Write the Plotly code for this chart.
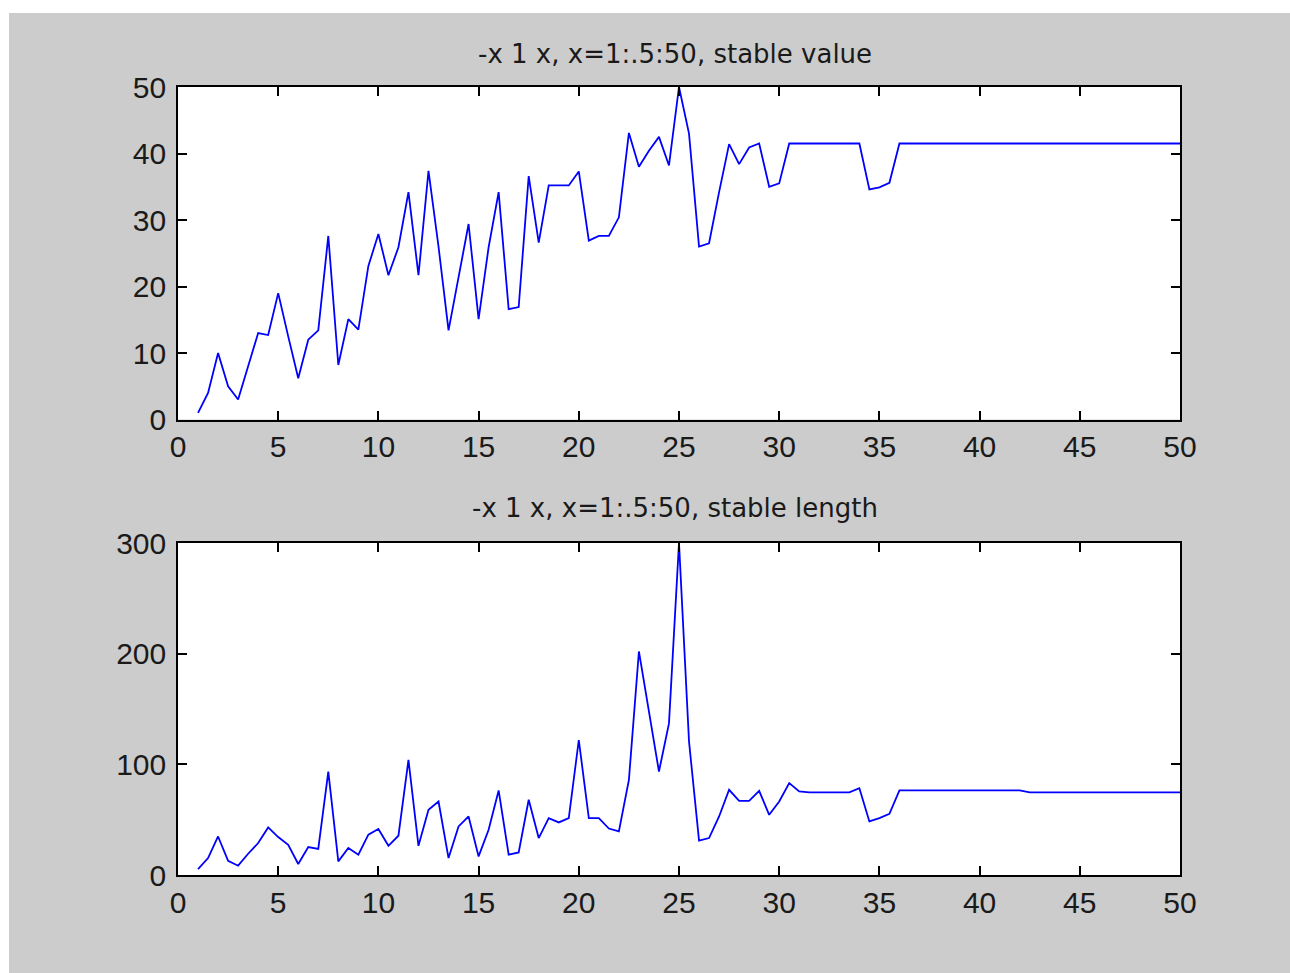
import numpy as np
import plotly.graph_objects as go

# x = 1:.5:50
x_vals = np.arange(1, 50.5, 0.5)

stable_value = [
    1, 4, 10, 5, 3, 8, 13, 12.7, 19, 12.5,
    6.2, 12, 13.4, 27.6, 8.2, 15.1, 13.5, 23.1, 27.9, 21.7,
    25.9, 34.2, 21.7, 37.4, 26, 13.4, 21.5, 29.4, 15.1, 25.9,
    34.2, 16.6, 16.9, 36.6, 26.6, 35.2, 35.2, 35.2, 37.3, 26.9,
    27.6, 27.6, 30.4, 43.1, 38, 40.4, 42.5, 38.2, 50, 43,
    26, 26.5, 34.2, 41.4, 38.4, 40.9, 41.5, 35, 35.5,
    41.5, 41.5, 41.5, 41.5, 41.5, 41.5, 41.5, 41.5,
    34.6, 34.9, 35.6,
    41.5, 41.5, 41.5, 41.5, 41.5, 41.5, 41.5, 41.5, 41.5, 41.5,
    41.5, 41.5, 41.5, 41.5, 41.5, 41.5, 41.5, 41.5, 41.5, 41.5,
    41.5, 41.5, 41.5, 41.5, 41.5, 41.5, 41.5, 41.5, 41.5,
]

stable_length = [
    5.4, 15.3, 34.8, 12.9, 8.4, 19.2, 28.9, 43, 34.3, 27.3,
    9.9, 25.3, 23.5, 93.5, 12.3, 24.4, 18.3, 36.4, 41.5, 26.4,
    35.5, 104, 26.4, 59, 66.4, 15.3, 43.9, 52.9, 16.8, 40.9,
    76.4, 18.3, 20.4, 68, 33.4, 51.4, 47.5, 51.4, 122, 51.4,
    51.4, 42, 39.4, 86, 202, 146, 93.5, 137, 300, 120.6,
    31, 33.4, 52.9, 77, 67, 67, 76, 54.4, 66.4, 83,
    75.5,
    74.6, 74.6, 74.6, 74.6, 74.6,
    78.5, 48.4, 51.4, 55.3,
    76.4, 76.4, 76.4, 76.4, 76.4, 76.4, 76.4, 76.4, 76.4, 76.4,
    76.4, 76.4, 76.4,
    74.6, 74.6, 74.6, 74.6, 74.6, 74.6, 74.6, 74.6, 74.6, 74.6,
    74.6, 74.6, 74.6, 74.6, 74.6, 74.6,
]

titles = ["-x 1 x, x=1:.5:50, stable value", "-x 1 x, x=1:.5:50, stable length"]
x_ticks = [0, 5, 10, 15, 20, 25, 30, 35, 40, 45, 50]
y1_ticks = [0, 10, 20, 30, 40, 50]
y2_ticks = [0, 100, 200, 300]

W, H = 1290, 973
FONT = "Liberation Sans, Arial, sans-serif"
TITLE_FONT = "DejaVu Sans, sans-serif"
LINE_BLUE = "#0000ff"
BG_GRAY = "#cccccc"


def px_x(p):
    return p / W


def px_y(p):
    return 1 - p / H


fig = go.Figure()
fig.add_trace(go.Scatter(x=x_vals, y=stable_value, mode="lines",
                         line=dict(color=LINE_BLUE, width=1.8),
                         xaxis="x", yaxis="y", showlegend=False))
fig.add_trace(go.Scatter(x=x_vals, y=stable_length, mode="lines",
                         line=dict(color=LINE_BLUE, width=1.8),
                         xaxis="x2", yaxis="y2", showlegend=False))

axis_common = dict(
    showline=True, linecolor="black", linewidth=1.6, mirror="ticks",
    ticks="inside", ticklen=9, tickwidth=1.5, tickcolor="black",
    showgrid=False, zeroline=False, automargin=False,
    tickfont=dict(family=FONT, size=30, color="#1a1a1a"),
)

x_dom = [px_x(178), px_x(1180)]

fig.update_layout(
    width=W, height=H,
    autosize=False,
    margin=dict(l=0, r=0, t=0, b=0, pad=0, autoexpand=False),
    paper_bgcolor=BG_GRAY,
    plot_bgcolor="white",
    showlegend=False,
    xaxis=dict(domain=x_dom, anchor="y", range=[0, 50],
               tickvals=x_ticks, ticklabelstandoff=0, **axis_common),
    yaxis=dict(domain=[px_y(419.5), px_y(87)], anchor="x", range=[0, 50],
               tickvals=y1_ticks, ticklabelstandoff=4, **axis_common),
    xaxis2=dict(domain=x_dom, anchor="y2", range=[0, 50],
                tickvals=x_ticks, ticklabelstandoff=0, **axis_common),
    yaxis2=dict(domain=[px_y(875), px_y(543)], anchor="x2", range=[0, 300],
                tickvals=y2_ticks, ticklabelstandoff=4, **axis_common),
    shapes=[
        # white margin along the top and left of the figure window
        dict(type="rect", xref="paper", yref="paper", x0=0, x1=1,
             y0=px_y(13), y1=1, fillcolor="white", line_width=0, layer="below"),
        dict(type="rect", xref="paper", yref="paper", x0=0, x1=px_x(9),
             y0=0, y1=1, fillcolor="white", line_width=0, layer="below"),
    ],
    annotations=[
        dict(text=titles[0], xref="paper", yref="paper", x=px_x(675), y=px_y(54),
             xanchor="center", yanchor="middle", showarrow=False,
             font=dict(family=TITLE_FONT, size=26, color="#1a1a1a")),
        dict(text=titles[1], xref="paper", yref="paper", x=px_x(675), y=px_y(508),
             xanchor="center", yanchor="middle", showarrow=False,
             font=dict(family=TITLE_FONT, size=26, color="#1a1a1a")),
    ],
)

fig.write_html("out.html")
